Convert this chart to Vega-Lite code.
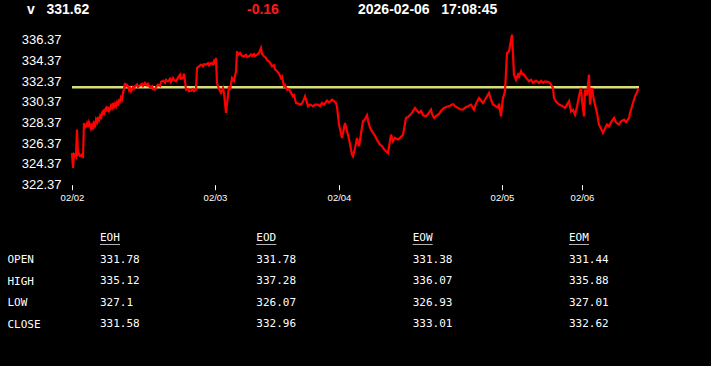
{
  "$schema": "https://vega.github.io/schema/vega-lite/v6.json",
  "width": 711,
  "height": 366,
  "autosize": {"type": "fit", "contains": "padding"},
  "padding": 0,
  "background": "#000000",
  "config": {"view": {"stroke": null}},
  "resolve": {"scale": {"x": "independent", "y": "independent"}},
  "layer": [
    {
      "encoding": {
        "x": {
          "field": "i", "type": "quantitative",
          "scale": {"domain": [-72, 639], "nice": false, "zero": false},
          "axis": {
            "orient": "bottom",
            "values": [0, 143, 267, 430, 510],
            "labelExpr": "datum.value == 0 ? '02/02' : datum.value == 143 ? '02/03' : datum.value == 267 ? '02/04' : datum.value == 430 ? '02/05' : '02/06'",
            "offset": -181.3, "domain": false, "grid": false, "ticks": true, "tickSize": 5,
            "tickColor": "#ffffff", "tickWidth": 1, "labelColor": "#ffffff",
            "labelFont": "Liberation Sans", "labelFontSize": 9.5, "labelPadding": 3,
            "labelFlush": false, "labelOverlap": false, "title": null
          }
        },
        "y": {
          "field": "v", "type": "quantitative",
          "scale": {"domain": [304.87, 340.2], "nice": false, "zero": false},
          "axis": {
            "orient": "left",
            "values": [322.37, 324.37, 326.37, 328.37, 330.37, 332.37, 334.37, 336.37],
            "format": ".2f", "offset": -72, "domain": false, "grid": false, "ticks": false,
            "tickSize": 0, "labelPadding": 11, "labelColor": "#ffffff",
            "labelFont": "Liberation Sans", "labelFontSize": 13, "labelOverlap": false, "title": null
          }
        }
      },
      "layer": [
        {
          "data": {"values": [{"i": 0, "i2": 567, "v": 331.78}]},
          "mark": {"type": "rule", "color": "#d6df7c", "strokeWidth": 2.5},
          "encoding": {"x2": {"field": "i2"}}
        },
        {
          "data": {"values": [
            {"i": 0, "v": 325.43}, {"i": 1, "v": 323.99}, {"i": 2, "v": 325.34}, {"i": 3, "v": 325.27}, {"i": 4, "v": 325.1},
            {"i": 5, "v": 327.69}, {"i": 6, "v": 325.27}, {"i": 7, "v": 325.35}, {"i": 8, "v": 325.15}, {"i": 9, "v": 325.2},
            {"i": 10, "v": 325.3}, {"i": 11, "v": 324.95}, {"i": 12, "v": 328.33}, {"i": 13, "v": 327.9}, {"i": 14, "v": 328.0},
            {"i": 15, "v": 328.3}, {"i": 16, "v": 327.95}, {"i": 17, "v": 328.4}, {"i": 18, "v": 328.17}, {"i": 19, "v": 327.8},
            {"i": 20, "v": 328.1}, {"i": 21, "v": 327.69}, {"i": 22, "v": 328.3}, {"i": 23, "v": 328.1}, {"i": 24, "v": 328.65},
            {"i": 25, "v": 328.4}, {"i": 26, "v": 328.9}, {"i": 27, "v": 328.6}, {"i": 28, "v": 328.97}, {"i": 29, "v": 328.7},
            {"i": 30, "v": 329.3}, {"i": 31, "v": 329.46}, {"i": 32, "v": 329.1}, {"i": 33, "v": 329.6}, {"i": 34, "v": 329.78},
            {"i": 35, "v": 329.45}, {"i": 36, "v": 329.9}, {"i": 37, "v": 329.5}, {"i": 38, "v": 329.62}, {"i": 39, "v": 330.0},
            {"i": 40, "v": 329.8}, {"i": 41, "v": 330.26}, {"i": 42, "v": 329.9}, {"i": 43, "v": 330.2}, {"i": 44, "v": 329.94},
            {"i": 45, "v": 330.3}, {"i": 46, "v": 330.0}, {"i": 47, "v": 330.5}, {"i": 48, "v": 330.42}, {"i": 49, "v": 330.8},
            {"i": 50, "v": 330.6}, {"i": 51, "v": 331.23}, {"i": 52, "v": 331.6}, {"i": 53, "v": 332.19}, {"i": 54, "v": 331.9},
            {"i": 55, "v": 332.0}, {"i": 56, "v": 331.87}, {"i": 57, "v": 331.5}, {"i": 58, "v": 331.7}, {"i": 59, "v": 331.39},
            {"i": 60, "v": 331.6}, {"i": 61, "v": 331.8}, {"i": 62, "v": 331.65}, {"i": 63, "v": 331.87}, {"i": 65, "v": 332.05},
            {"i": 66, "v": 331.8}, {"i": 68, "v": 331.97}, {"i": 70, "v": 332.1}, {"i": 71, "v": 331.9}, {"i": 73, "v": 332.19},
            {"i": 75, "v": 331.95}, {"i": 76, "v": 332.1}, {"i": 78, "v": 331.77}, {"i": 80, "v": 331.9}, {"i": 81, "v": 331.6},
            {"i": 83, "v": 331.55}, {"i": 84, "v": 331.8}, {"i": 86, "v": 332.03}, {"i": 88, "v": 331.9}, {"i": 89, "v": 332.3},
            {"i": 91, "v": 332.42}, {"i": 93, "v": 332.2}, {"i": 94, "v": 332.5}, {"i": 96, "v": 332.35}, {"i": 98, "v": 332.6},
            {"i": 99, "v": 332.3}, {"i": 101, "v": 332.67}, {"i": 102, "v": 332.5}, {"i": 104, "v": 332.35}, {"i": 106, "v": 332.7},
            {"i": 108, "v": 332.99}, {"i": 109, "v": 332.6}, {"i": 111, "v": 332.67}, {"i": 112, "v": 333.1}, {"i": 113, "v": 332.4},
            {"i": 114, "v": 331.55}, {"i": 116, "v": 331.6}, {"i": 117, "v": 331.4}, {"i": 119, "v": 331.45}, {"i": 121, "v": 331.6},
            {"i": 122, "v": 331.4}, {"i": 124, "v": 331.55}, {"i": 125, "v": 333.64}, {"i": 127, "v": 333.8}, {"i": 129, "v": 333.96},
            {"i": 131, "v": 333.8}, {"i": 132, "v": 334.0}, {"i": 134, "v": 333.96}, {"i": 136, "v": 334.1}, {"i": 137, "v": 333.9},
            {"i": 139, "v": 334.12}, {"i": 141, "v": 334.0}, {"i": 142, "v": 334.28}, {"i": 143, "v": 334.1}, {"i": 144, "v": 334.6},
            {"i": 145, "v": 332.19}, {"i": 147, "v": 331.6}, {"i": 149, "v": 331.23}, {"i": 151, "v": 331.71}, {"i": 152, "v": 331.2},
            {"i": 154, "v": 329.3}, {"i": 157, "v": 331.87}, {"i": 158, "v": 331.5}, {"i": 160, "v": 332.67}, {"i": 162, "v": 332.4},
            {"i": 164, "v": 333.32}, {"i": 165, "v": 335.25}, {"i": 166, "v": 334.9}, {"i": 168, "v": 335.09}, {"i": 170, "v": 334.8},
            {"i": 172, "v": 334.77}, {"i": 174, "v": 334.9}, {"i": 175, "v": 334.7}, {"i": 177, "v": 334.77}, {"i": 179, "v": 334.95},
            {"i": 180, "v": 334.8}, {"i": 182, "v": 334.99}, {"i": 183, "v": 334.8}, {"i": 185, "v": 334.93}, {"i": 187, "v": 335.1},
            {"i": 189, "v": 335.57}, {"i": 190, "v": 335.0}, {"i": 192, "v": 334.77}, {"i": 194, "v": 334.6}, {"i": 195, "v": 334.4},
            {"i": 197, "v": 334.28}, {"i": 199, "v": 334.0}, {"i": 200, "v": 333.8}, {"i": 202, "v": 333.9}, {"i": 203, "v": 333.5},
            {"i": 205, "v": 333.32}, {"i": 207, "v": 333.1}, {"i": 209, "v": 332.67}, {"i": 210, "v": 332.8}, {"i": 212, "v": 331.87},
            {"i": 213, "v": 332.0}, {"i": 215, "v": 331.55}, {"i": 217, "v": 331.6}, {"i": 219, "v": 331.23}, {"i": 221, "v": 330.9},
            {"i": 222, "v": 331.0}, {"i": 224, "v": 330.26}, {"i": 226, "v": 330.2}, {"i": 229, "v": 330.1}, {"i": 231, "v": 330.4},
            {"i": 233, "v": 330.9}, {"i": 235, "v": 330.3}, {"i": 236, "v": 329.94}, {"i": 238, "v": 330.1}, {"i": 241, "v": 329.94},
            {"i": 243, "v": 330.1}, {"i": 246, "v": 330.1}, {"i": 248, "v": 329.95}, {"i": 250, "v": 330.26}, {"i": 252, "v": 330.1},
            {"i": 255, "v": 330.49}, {"i": 257, "v": 330.3}, {"i": 260, "v": 330.58}, {"i": 262, "v": 330.45}, {"i": 264, "v": 330.26},
            {"i": 265, "v": 329.9}, {"i": 267, "v": 328.17}, {"i": 270, "v": 326.88}, {"i": 273, "v": 328.33}, {"i": 276, "v": 327.2},
            {"i": 278, "v": 326.3}, {"i": 280, "v": 325.27}, {"i": 281, "v": 325.11}, {"i": 283, "v": 325.9}, {"i": 285, "v": 326.88},
            {"i": 287, "v": 326.08}, {"i": 289, "v": 327.3}, {"i": 291, "v": 328.49}, {"i": 293, "v": 328.7}, {"i": 295, "v": 329.07},
            {"i": 296, "v": 328.6}, {"i": 298, "v": 327.85}, {"i": 301, "v": 327.37}, {"i": 303, "v": 327.1}, {"i": 305, "v": 326.7},
            {"i": 308, "v": 326.24}, {"i": 310, "v": 326.1}, {"i": 312, "v": 325.8}, {"i": 314, "v": 325.6}, {"i": 316, "v": 325.43},
            {"i": 319, "v": 327.2}, {"i": 321, "v": 326.56}, {"i": 323, "v": 326.9}, {"i": 326, "v": 326.72}, {"i": 328, "v": 326.9},
            {"i": 331, "v": 327.2}, {"i": 334, "v": 328.81}, {"i": 336, "v": 328.9}, {"i": 338, "v": 329.1}, {"i": 340, "v": 329.3},
            {"i": 343, "v": 329.78}, {"i": 345, "v": 329.5}, {"i": 347, "v": 329.3}, {"i": 349, "v": 329.5}, {"i": 351, "v": 329.07},
            {"i": 354, "v": 328.97}, {"i": 356, "v": 329.2}, {"i": 359, "v": 329.62}, {"i": 360, "v": 329.2}, {"i": 362, "v": 328.81},
            {"i": 364, "v": 329.0}, {"i": 367, "v": 329.2}, {"i": 369, "v": 329.5}, {"i": 372, "v": 329.78}, {"i": 375, "v": 329.9},
            {"i": 378, "v": 330.0}, {"i": 381, "v": 330.16}, {"i": 383, "v": 329.95}, {"i": 386, "v": 329.78}, {"i": 388, "v": 329.65},
            {"i": 391, "v": 329.62}, {"i": 393, "v": 329.8}, {"i": 396, "v": 329.94}, {"i": 399, "v": 330.1}, {"i": 402, "v": 329.62},
            {"i": 404, "v": 330.2}, {"i": 407, "v": 330.74}, {"i": 409, "v": 330.5}, {"i": 411, "v": 330.26}, {"i": 414, "v": 330.74},
            {"i": 415, "v": 330.9}, {"i": 417, "v": 331.23}, {"i": 419, "v": 330.6}, {"i": 421, "v": 330.1}, {"i": 423, "v": 330.0},
            {"i": 426, "v": 329.78}, {"i": 427, "v": 330.2}, {"i": 429, "v": 328.97}, {"i": 431, "v": 330.74}, {"i": 433, "v": 331.39},
            {"i": 435, "v": 335.09}, {"i": 437, "v": 335.25}, {"i": 440, "v": 336.86}, {"i": 442, "v": 332.99}, {"i": 444, "v": 332.51},
            {"i": 446, "v": 333.0}, {"i": 447, "v": 332.8}, {"i": 449, "v": 333.32}, {"i": 450, "v": 333.1}, {"i": 452, "v": 332.99},
            {"i": 454, "v": 332.7}, {"i": 457, "v": 332.35}, {"i": 459, "v": 332.5}, {"i": 461, "v": 332.19}, {"i": 464, "v": 332.42},
            {"i": 467, "v": 332.19}, {"i": 469, "v": 332.4}, {"i": 471, "v": 332.2}, {"i": 473, "v": 332.35}, {"i": 476, "v": 332.3},
            {"i": 478, "v": 332.19}, {"i": 481, "v": 331.71}, {"i": 482, "v": 330.74}, {"i": 484, "v": 330.4}, {"i": 487, "v": 330.1},
            {"i": 490, "v": 330.0}, {"i": 493, "v": 329.78}, {"i": 495, "v": 330.1}, {"i": 497, "v": 330.42}, {"i": 499, "v": 329.46},
            {"i": 501, "v": 329.6}, {"i": 503, "v": 329.13}, {"i": 505, "v": 329.9}, {"i": 507, "v": 330.9}, {"i": 509, "v": 331.71},
            {"i": 510, "v": 330.5}, {"i": 512, "v": 328.97}, {"i": 513, "v": 331.55}, {"i": 515, "v": 331.0}, {"i": 517, "v": 332.99},
            {"i": 518, "v": 330.1}, {"i": 520, "v": 331.71}, {"i": 521, "v": 331.0}, {"i": 523, "v": 330.1}, {"i": 525, "v": 329.3},
            {"i": 527, "v": 328.17}, {"i": 529, "v": 327.8}, {"i": 531, "v": 327.37}, {"i": 533, "v": 327.8}, {"i": 535, "v": 328.17},
            {"i": 537, "v": 328.0}, {"i": 539, "v": 328.4}, {"i": 542, "v": 328.81}, {"i": 544, "v": 328.4}, {"i": 547, "v": 328.17},
            {"i": 549, "v": 328.5}, {"i": 552, "v": 328.65}, {"i": 554, "v": 328.4}, {"i": 557, "v": 328.81}, {"i": 558, "v": 329.3},
            {"i": 560, "v": 329.94}, {"i": 563, "v": 330.9}, {"i": 565, "v": 331.3}, {"i": 566, "v": 331.55}, {"i": 567, "v": 331.62}
          ]},
          "mark": {"type": "line", "color": "#ff0000", "strokeWidth": 2.2}
        }
      ]
    },
    {
      "data": {"values": [
        {"item": "a", "line": "h", "label": "v\u00a0\u00a0\u00a0331.62"},
        {"item": "b", "line": "h", "label": "2026-02-06\u00a0\u00a0\u00a017:08:45"}
      ]},
      "mark": {"type": "text", "align": "left", "baseline": "middle", "font": "Liberation Sans", "fontSize": 14, "fontWeight": "bold", "color": "#ffffff"},
      "encoding": {
        "x": {"field": "item", "type": "nominal", "scale": {"type": "point", "range": [27, 358], "padding": 0}, "axis": null},
        "y": {"field": "line", "type": "nominal", "scale": {"type": "point", "range": [0, 20], "padding": 0}, "axis": null},
        "text": {"field": "label", "type": "nominal"}
      }
    },
    {
      "data": {"values": [{"item": "c", "line": "h", "label": "-0.16"}]},
      "mark": {"type": "text", "align": "left", "baseline": "middle", "font": "Liberation Sans", "fontSize": 14, "fontWeight": "bold", "color": "#ff1a1a"},
      "encoding": {
        "x": {"field": "item", "type": "nominal", "scale": {"type": "point", "range": [0, 494], "padding": 0}, "axis": null},
        "y": {"field": "line", "type": "nominal", "scale": {"type": "point", "range": [0, 20], "padding": 0}, "axis": null},
        "text": {"field": "label", "type": "nominal"}
      }
    },
    {
      "encoding": {
        "x": {"field": "key", "type": "nominal", "scale": {"type": "point", "domain": ["EOH", "EOD", "EOW", "EOM"], "range": [100, 569], "padding": 0}, "axis": null},
        "y": {
          "field": "row", "type": "nominal",
          "scale": {"type": "point", "domain": ["hdr", "OPEN", "HIGH", "LOW", "CLOSE"], "range": [238, 324], "padding": 0},
          "axis": {
            "orient": "left", "values": ["OPEN", "HIGH", "LOW", "CLOSE"], "offset": -7,
            "domain": false, "ticks": false, "tickSize": 0, "labelPadding": 0, "grid": false,
            "labelAlign": "left", "labelBaseline": "middle", "labelFont": "DejaVu Sans Mono",
            "labelFontSize": 11, "labelColor": "#ffffff", "title": null
          }
        }
      },
      "layer": [
        {
          "data": {"values": [
            {"row": "OPEN", "EOH": 331.78, "EOD": 331.78, "EOW": 331.38, "EOM": 331.44},
            {"row": "HIGH", "EOH": 335.12, "EOD": 337.28, "EOW": 336.07, "EOM": 335.88},
            {"row": "LOW", "EOH": 327.1, "EOD": 326.07, "EOW": 326.93, "EOM": 327.01},
            {"row": "CLOSE", "EOH": 331.58, "EOD": 332.96, "EOW": 333.01, "EOM": 332.62}
          ]},
          "transform": [{"fold": ["EOH", "EOD", "EOW", "EOM"], "as": ["key", "value"]}],
          "mark": {"type": "text", "align": "left", "baseline": "middle", "font": "DejaVu Sans Mono", "fontSize": 11, "color": "#ffffff"},
          "encoding": {"text": {"field": "value", "type": "nominal"}}
        },
        {
          "data": {"values": [
            {"key": "EOH", "row": "hdr"}, {"key": "EOD", "row": "hdr"},
            {"key": "EOW", "row": "hdr"}, {"key": "EOM", "row": "hdr"}
          ]},
          "layer": [
            {
              "mark": {"type": "text", "align": "left", "baseline": "middle", "font": "DejaVu Sans Mono", "fontSize": 11, "color": "#ffffff"},
              "encoding": {"text": {"field": "key", "type": "nominal"}}
            },
            {
              "mark": {"type": "tick", "orient": "horizontal", "size": 20, "thickness": 1, "color": "#ffffff", "xOffset": 10, "yOffset": 6.5},
              "encoding": {}
            }
          ]
        }
      ]
    }
  ]
}
